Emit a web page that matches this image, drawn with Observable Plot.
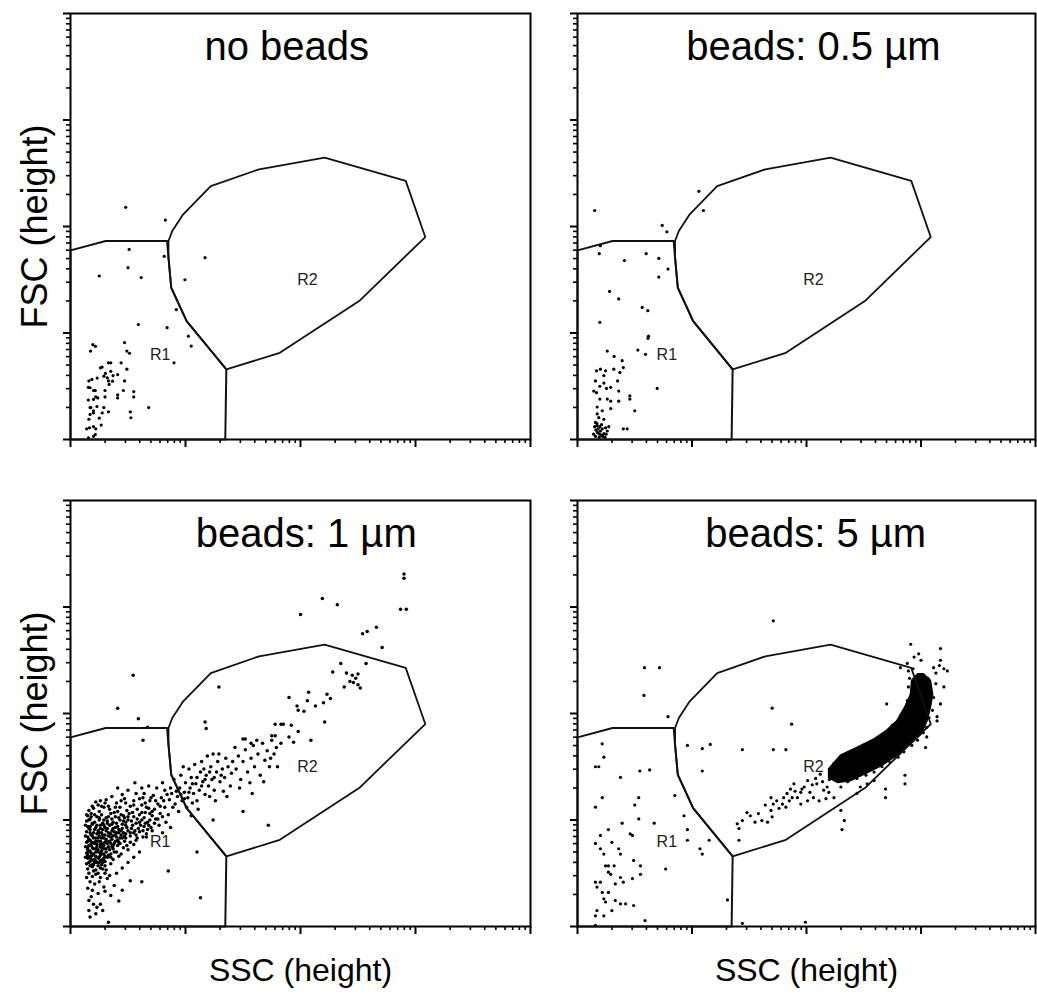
<!DOCTYPE html>
<html><head><meta charset="utf-8">
<script src="https://cdn.jsdelivr.net/npm/d3@7"></script>
<script src="https://cdn.jsdelivr.net/npm/@observablehq/plot@0.6"></script>
<style>
body{margin:0;background:#fff;}
#wrap{position:relative;width:1037px;height:994px;background:#fff;font-family:"Liberation Sans",Arial,sans-serif;}
#wrap > div{position:absolute;}
svg{overflow:visible;}
</style></head><body><div id="wrap"></div>
<script>
// ---- DATA (all values in decades: log10 of SSC / FSC channel) ----
const panelTitles = ["no beads", "beads: 0.5 µm", "beads: 1 µm", "beads: 5 µm"];
const titleCenters = [1.88, 2.06, 2.05, 2.08];
const xAxisTitle = "SSC (height)";
const yAxisTitle = "FSC (height)";
const gateNames = ["R1", "R2"];
const gateLabelPos = [[0.78, 0.79], [2.06, 1.50]];

const gateR1 = [[0,0],[0,1.776],[0.306,1.864],[0.84,1.864],[0.852,1.707],[0.876,1.425],[1.01,1.112],[1.355,0.658],[1.346,0]];
const gateR2 = [[0.852,1.864],[0.885,1.958],[0.98,2.114],[1.22,2.38],[1.64,2.537],[2.21,2.647],[2.915,2.428],[3.085,1.901],[2.51,1.30],[1.82,0.814],[1.355,0.658],[1.01,1.112],[0.876,1.425],[0.852,1.707]];

const noBeads = [
[0.194,0.89],[0.217,0.875],[0.174,0.83],[0.47,0.91],[0.49,0.83],[0.513,0.81],[0.59,1.08],[0.84,1.05],[0.33,0.72],[0.35,0.72],
[0.275,0.68],[0.44,0.72],[0.49,0.66],[0.304,0.62],[0.35,0.64],[0.37,0.60],[0.232,0.577],[0.16,0.55],[0.33,0.55],[0.47,0.55],
[0.2,0.46],[0.3,0.46],[0.22,0.40],[0.3,0.40],[0.155,0.49],[0.155,0.37],[0.41,0.42],[0.46,0.46],[0.55,0.45],[0.55,0.40],
[0.68,0.30],[0.17,0.30],[0.2,0.27],[0.23,0.31],[0.29,0.30],[0.25,0.20],[0.33,0.26],[0.52,0.26],[0.16,0.19],[0.14,0.10],
[0.2,0.12],[0.22,0.10],[0.9,0.72],[0.29,0.595],[0.17,0.486],[0.216,0.46],[0.336,0.517],[0.366,0.548],[0.2,0.376],[0.237,0.39],
[0.41,0.39],[0.2,0.25],[0.276,0.25],[0.17,0.235],[0.525,0.204],[0.165,0.11],[0.267,0.135],[0.156,0.016],[0.2,0.03],[0.216,0.047],
[0.41,0.61],[0.177,0.3],[0.32,0.58],[0.186,0.564],[0.26,0.673],[0.92,1.22],[1.025,0.97],[1.05,0.877],
[0.48,2.18],[0.825,2.06],[0.51,1.785],[1.17,1.707],[0.50,1.613],[0.25,1.535],[0.615,1.52],[0.995,1.50],[0.815,1.72]
];

const beads05 = [
[0.195,1.10],[0.565,1.24],[0.614,1.21],[0.62,0.97],[0.615,0.95],[0.527,0.84],[0.594,0.80],[0.696,0.48],[0.457,0.41],[0.457,0.38],
[0.5,0.27],[0.26,0.83],[0.32,0.78],[0.39,0.74],[0.166,0.645],[0.2,0.66],[0.245,0.645],[0.317,0.66],[0.37,0.63],[0.40,0.675],
[0.23,0.6],[0.157,0.55],[0.195,0.5],[0.253,0.48],[0.29,0.49],[0.166,0.44],[0.195,0.38],[0.26,0.38],[0.29,0.36],[0.36,0.36],
[0.172,0.305],[0.216,0.27],[0.172,0.24],[0.157,0.16],[0.172,0.13],[0.195,0.12],[0.216,0.10],[0.245,0.11],[0.273,0.12],[0.172,0.07],
[0.195,0.05],[0.23,0.055],[0.157,0.03],[0.40,0.10],[0.434,0.10],[0.142,0.455],[0.23,0.53],[0.35,0.55],[0.36,0.455],[0.29,0.29],
[0.186,0.205],[0.23,0.19],[0.16,0.09],[0.18,0.06],[0.2,0.08],[0.22,0.03],[0.19,0.02],[0.25,0.05],[0.17,0.15],[0.21,0.14],
[0.15,0.12],[0.24,0.02],[0.14,0.05],[0.26,0.08],[0.18,0.1],[0.21,0.04],
[0.15,2.15],[1.06,2.33],[1.10,2.15],[0.74,2.01],[0.78,1.95],[0.19,1.745],[0.2,1.82],[0.41,1.68],[0.6,1.745],[0.71,1.70],
[0.79,1.60],[0.71,1.525],[0.28,1.39],[0.36,1.32]
];

const beads1 = [
// densest core
[0.22,1.17],[0.31,1.19],[0.40,1.16],[0.47,1.2],[0.55,1.18],[0.63,1.21],[0.36,1.22],[0.27,1.13],
[0.16,1.09],[0.2,1.11],[0.25,1.08],[0.29,1.12],[0.34,1.1],[0.38,1.07],[0.43,1.12],[0.49,1.09],[0.52,1.13],[0.58,1.1],[0.62,1.14],[0.68,1.11],
[0.15,1.04],[0.18,1.06],[0.23,1.03],[0.27,1.05],[0.31,1.02],[0.35,1.06],[0.39,1.03],[0.44,1.05],[0.47,1.02],[0.51,1.06],[0.55,1.03],[0.6,1.05],[0.65,1.07],[0.71,1.04],
[0.14,0.99],[0.17,1.01],[0.21,0.98],[0.25,1.0],[0.28,0.97],[0.32,0.99],[0.36,1.01],[0.4,0.97],[0.43,1.0],[0.48,0.98],[0.53,0.99],[0.57,0.97],[0.62,1.0],[0.67,0.98],[0.74,1.01],
[0.15,0.94],[0.19,0.96],[0.22,0.93],[0.26,0.95],[0.3,0.93],[0.34,0.95],[0.37,0.92],[0.41,0.94],[0.45,0.96],[0.49,0.93],[0.54,0.95],[0.59,0.92],[0.64,0.94],[0.7,0.93],
[0.14,0.89],[0.17,0.91],[0.2,0.88],[0.24,0.9],[0.27,0.88],[0.31,0.9],[0.35,0.87],[0.38,0.89],[0.42,0.91],[0.46,0.88],[0.5,0.9],[0.55,0.88],[0.6,0.89],[0.66,0.87],
[0.15,0.84],[0.18,0.86],[0.22,0.83],[0.25,0.85],[0.29,0.83],[0.33,0.85],[0.36,0.82],[0.4,0.84],[0.44,0.86],[0.48,0.83],[0.52,0.85],[0.58,0.83],[0.63,0.84],
[0.14,0.79],[0.17,0.81],[0.21,0.78],[0.24,0.8],[0.28,0.78],[0.31,0.8],[0.35,0.78],[0.39,0.8],[0.43,0.78],[0.47,0.8],[0.52,0.79],[0.57,0.81],
[0.15,0.74],[0.18,0.76],[0.22,0.73],[0.26,0.75],[0.29,0.73],[0.33,0.75],[0.37,0.73],[0.41,0.76],[0.46,0.74],[0.5,0.72],
[0.14,0.69],[0.17,0.71],[0.2,0.68],[0.24,0.7],[0.27,0.68],[0.31,0.7],[0.35,0.68],[0.4,0.7],[0.44,0.68],
[0.15,0.64],[0.18,0.66],[0.21,0.63],[0.25,0.65],[0.28,0.63],[0.32,0.65],[0.37,0.63],[0.42,0.66],
[0.14,0.59],[0.17,0.61],[0.2,0.58],[0.23,0.6],[0.27,0.58],[0.3,0.61],[0.35,0.59],
[0.15,0.54],[0.19,0.56],[0.22,0.53],[0.26,0.55],[0.31,0.53],
[0.16,1.0],[0.19,0.97],[0.23,0.95],[0.26,0.92],[0.29,0.95],[0.32,0.97],[0.16,0.92],[0.19,0.85],[0.23,0.87],[0.27,0.83],[0.3,0.86],[0.33,0.88],
[0.16,0.82],[0.19,0.79],[0.23,0.77],[0.26,0.8],[0.29,0.76],[0.32,0.78],[0.16,0.76],[0.2,0.73],[0.24,0.72],[0.27,0.74],[0.16,0.7],[0.19,0.67],
[0.22,0.7],[0.26,0.67],[0.3,0.66],[0.16,0.65],[0.2,0.62],[0.24,0.64],[0.17,0.57],[0.21,0.6],[0.36,0.96],[0.39,0.93],[0.42,0.88],[0.37,0.85],
[0.41,0.81],[0.45,0.83],[0.38,0.78],[0.34,0.72],[0.38,0.7],[0.45,0.92],[0.48,0.95],[0.5,1.0],[0.46,1.04],[0.41,1.08],[0.33,1.13],[0.24,1.14],
[0.19,1.13],[0.53,0.92],[0.56,0.9],[0.57,0.86],[0.61,0.95],[0.64,1.02],[0.69,1.06],[0.73,0.97],[0.67,0.91],[0.55,0.77],[0.49,0.76],[0.35,0.65],
[0.28,0.6],[0.24,0.57],
[0.13,0.95],[0.13,0.85],[0.13,0.75],[0.13,0.65],[0.14,1.05],[0.18,1.03],[0.21,1.05],[0.25,1.02],[0.29,1.0],[0.33,1.03],[0.37,0.98],[0.42,1.02],
[0.46,0.99],[0.5,1.03],[0.54,1.07],[0.58,1.01],[0.17,0.94],[0.21,0.91],[0.25,0.88],[0.28,0.91],[0.32,0.92],[0.36,0.9],[0.4,0.88],[0.44,0.9],
[0.48,0.87],[0.52,0.88],[0.17,0.88],[0.2,0.83],[0.24,0.83],[0.28,0.86],[0.31,0.82],[0.35,0.84],[0.39,0.86],[0.43,0.83],[0.47,0.85],[0.15,0.8],
[0.18,0.78],[0.22,0.8],[0.26,0.77],[0.3,0.79],[0.34,0.8],[0.37,0.76],[0.42,0.79],[0.15,0.72],[0.19,0.74],[0.23,0.75],[0.27,0.71],[0.31,0.73],
[0.36,0.75],[0.15,0.67],[0.18,0.69],[0.22,0.66],[0.26,0.69],[0.29,0.68],[0.33,0.67],[0.18,0.63],[0.22,0.61],[0.26,0.62],[0.29,0.64],[0.16,0.6],
[0.19,0.58],[0.25,0.6],[0.3,0.57],[0.2,0.52],[0.24,0.5],[0.28,0.54],[0.55,1.14],[0.48,1.16],[0.44,1.18],[0.39,1.12],[0.3,1.16],[0.26,1.18],
[0.65,1.16],[0.7,1.21],[0.74,1.18],[0.78,1.13],[0.81,1.18],[0.84,1.24],[0.87,1.3],[0.92,1.27],[0.96,1.24],[0.99,1.2],[1.03,1.26],[1.06,1.34],
[1.1,1.4],[1.14,1.32],[1.17,1.38],[1.21,1.45],[1.25,1.4],[1.31,1.42],[0.66,1.12],[0.71,1.08],[0.76,1.01],[0.8,1.03],[0.62,1.07],[0.6,0.98],
[0.65,0.97],[0.69,1.0],[0.63,0.9],[0.68,0.95],
// medium region
[0.6,1.2],[0.64,1.25],[0.69,1.18],[0.72,1.23],[0.76,1.15],[0.79,1.21],[0.82,1.28],[0.86,1.19],[0.88,1.25],[0.73,1.1],[0.78,1.06],[0.82,1.12],
[0.85,1.05],[0.89,1.12],[0.75,1.3],[0.68,1.32],[0.8,1.35],[0.71,0.9],[0.77,0.95],[0.83,0.98],[0.62,1.3],[0.57,1.25],[0.5,1.28],[0.45,1.24],
[0.41,1.3],[0.56,1.35],[0.66,0.84],[0.8,0.88],[0.87,0.93],
// diagonal band
[0.91,1.15],[0.93,1.22],[0.95,1.3],[0.97,1.18],[0.99,1.26],[1.0,1.35],[1.02,1.21],[1.04,1.3],[1.05,1.4],[1.07,1.25],[1.09,1.34],[1.1,1.18],
[1.12,1.28],[1.13,1.45],[1.15,1.36],[1.17,1.24],[1.18,1.42],[1.2,1.32],[1.22,1.5],[1.23,1.38],[1.25,1.28],[1.27,1.45],[1.28,1.55],[1.3,1.36],
[1.32,1.48],[1.34,1.4],[1.35,1.58],[1.37,1.5],[1.39,1.32],[1.4,1.44],[0.94,1.08],[1.01,1.12],[1.06,1.16],[0.9,1.38],[0.96,1.42],[1.03,1.48],
[1.08,1.52],[1.14,1.55],[1.21,1.22],[1.26,1.18],[1.33,1.27],[1.11,1.1],[1.19,1.6],[1.05,1.04],[0.98,1.5],[1.16,1.48],[1.29,1.62],[1.36,1.22],
[1.24,1.62],[1.41,1.55],
[1.44,1.48],[1.46,1.6],[1.48,1.38],[1.5,1.55],[1.52,1.66],[1.54,1.45],[1.57,1.58],[1.59,1.7],[1.6,1.5],[1.63,1.62],[1.65,1.42],[1.67,1.72],
[1.69,1.56],[1.71,1.65],[1.73,1.5],[1.75,1.75],[1.77,1.62],[1.79,1.68],[1.47,1.3],[1.56,1.35],[1.62,1.75],[1.68,1.36],[1.52,1.76],[1.43,1.68],
[1.74,1.58],[1.58,1.25],[1.8,1.5],
// upper sparse
[2.9,3.31],[2.9,3.27],[2.87,2.98],[2.92,2.98],[2.19,3.08],[2.32,3.02],[2.0,2.93],[2.54,2.75],[2.58,2.77],[2.66,2.81],[2.71,2.62],[2.57,2.47],
[2.38,2.25],[2.43,2.3],[2.45,2.36],[2.48,2.33],[2.5,2.27],[2.52,2.24],[2.4,2.38],[2.46,2.29],[2.5,2.37],[2.28,2.39],[2.35,2.47],
[2.07,2.2],[2.23,2.18],[2.26,2.14],[2.2,2.1],[1.9,2.15],[1.97,2.07],[2.06,2.12],[2.13,2.07],[2.21,1.92],[1.98,2.03],[2.03,2.02],
[1.83,1.9],[1.85,1.9],[1.78,1.9],[1.92,1.89],[1.98,1.83],[1.75,1.79],[1.78,1.79],[1.9,1.78],[1.94,1.73],[1.5,1.76],[1.57,1.72],
[1.83,1.72],[2.09,1.75],[1.29,2.25],[1.17,1.92],[1.18,1.86],
// isolated
[0.545,2.36],[0.41,2.05],[0.59,1.95],[0.67,1.87],[0.63,1.75],[1.72,0.95],[1.1,0.70],[0.85,0.52],[1.13,0.27],[1.5,1.08],[1.24,1.0],
// lower tail
[0.16,0.244],[0.2,0.21],[0.26,0.21],[0.17,0.09],[0.23,0.18],[0.33,0.04],[0.35,0.29],[0.42,0.24],[0.45,0.34],[0.52,0.43],[0.62,0.42],
[0.29,0.37],[0.19,0.34],[0.22,0.12],[0.16,0.15],[0.28,0.15],[0.38,0.385],[0.32,0.45],[0.25,0.42],
[0.16,0.5],[0.19,0.47],[0.22,0.49],[0.26,0.46],[0.3,0.5],[0.34,0.48],[0.17,0.42],[0.21,0.4],[0.15,0.36],[0.24,0.31],[0.18,0.28],
[0.3,0.33],[0.4,0.5],[0.45,0.55],[0.5,0.6],[0.55,0.65],[0.6,0.7],[0.14,0.46]
];

const beads5 = [
// R1 region
[0.216,1.715],[0.23,1.59],[0.157,1.50],[0.186,1.50],[0.375,1.40],[0.544,1.46],[0.63,1.47],[0.216,1.21],[0.535,1.21],[0.5,1.14],
[0.157,1.12],[0.535,1.01],[0.39,0.97],[0.67,0.97],[0.27,0.91],[0.46,0.87],[0.48,0.855],[0.2,0.855],[0.3,0.79],[0.157,0.78],
[0.2,0.73],[0.36,0.73],[0.23,0.68],[0.375,0.68],[0.49,0.62],[0.245,0.57],[0.27,0.57],[0.32,0.57],[0.55,0.57],[0.77,0.54],
[0.27,0.51],[0.29,0.49],[0.375,0.46],[0.48,0.45],[0.55,0.49],[0.157,0.416],[0.2,0.416],[0.33,0.40],[0.4,0.416],[0.17,0.37],
[0.216,0.32],[0.27,0.32],[0.23,0.26],[0.245,0.23],[0.33,0.244],[0.375,0.213],[0.42,0.213],[0.49,0.197],[0.3,0.15],[0.17,0.15],
[0.157,0.1],[0.23,0.1],[0.59,0.056],[0.157,0.01],[1.31,0.25],[0.96,1.70],[1.16,1.71],[1.09,1.67],[1.09,1.46],[0.85,1.23],
[0.93,1.04],[0.96,0.91],[0.96,0.81],[1.07,0.73],[1.09,0.68],[1.15,0.81],[1.41,0.92],[1.41,0.81],
// isolated
[0.585,2.43],[0.716,2.43],[0.58,2.17],[0.79,1.97],[1.70,2.05],[1.87,1.90],[1.44,1.66],[1.71,1.66],[1.82,1.66],[2.91,2.65],
[3.17,2.61],[2.86,1.34],[2.69,1.21],[2.31,0.91],[1.44,0.03],[1.71,2.87],[1.99,0.04],
// tail toward the bead population
[1.395,0.964],[1.44,0.995],[1.51,1.04],[1.58,1.06],[1.61,0.995],[1.66,0.98],[1.69,1.09],[1.71,1.15],[1.74,1.18],[1.80,1.21],
[1.82,1.12],[1.83,1.25],[1.86,1.29],[1.89,1.34],[1.92,1.21],[1.95,1.15],[1.96,1.29],[2.01,1.37],[2.03,1.26],[2.06,1.21],
[2.09,1.34],[2.11,1.18],[2.12,1.43],[2.15,1.28],[2.18,1.31],[1.95,1.26],[1.85,1.18],[1.79,1.15],[1.70,1.03],[1.55,0.98],
[1.48,1.07],[1.64,1.14],[1.76,1.11],[1.69,1.21],[1.875,1.21],[2.01,1.18],[2.08,1.39],[2.195,1.26],[2.24,1.21],[2.30,1.09],
[2.33,0.995],[2.44,1.25],[2.47,1.31],[2.53,1.34],[2.59,1.37],[2.69,1.29],[2.86,1.42],[2.05,1.33],[2.14,1.36],[2.17,1.2],
[1.98,1.31],[1.9,1.27],
// halo around the bead population
[3.04,1.68],[3.05,1.78],[3.14,1.93],[3.14,1.97],[3.17,2.09],[3.20,2.25],[3.23,2.40],[3.11,2.43],[2.98,2.56],[2.88,2.47],
[3.17,2.50],[2.70,2.09],[2.88,2.12],[3.0,2.50],[2.94,2.53],[3.16,2.45],[3.20,2.42],[2.82,2.43],[2.89,2.40],
[2.24,1.53],[2.355,1.62],[2.50,1.70],[2.65,1.79],[2.75,1.89],[2.82,1.98],[2.88,2.09],[2.89,2.25],[2.30,1.31],[2.44,1.39],
[2.59,1.45],[2.73,1.54],[2.85,1.64],[2.97,1.75],[3.05,1.87],[3.10,2.03],[3.11,2.15],[3.13,2.28],
[2.27,1.51],[2.4,1.6],[2.55,1.68],[2.68,1.76],[2.8,1.85],[2.36,1.36],[2.52,1.42],[2.66,1.5],[2.8,1.59],[2.92,1.7],
[3.02,1.82],[3.07,1.96],[3.08,2.1],[3.06,2.33],[2.93,2.42],[2.9,2.33],[3.13,2.38],[2.2,1.38],[2.25,1.44],[2.21,1.47]
];

// outline of the near-solid 5 µm bead population
const beads5Core = [[2.195,1.48],[2.30,1.61],[2.44,1.68],[2.59,1.76],[2.70,1.84],[2.79,1.93],[2.86,2.06],[2.91,2.18],[2.92,2.31],[2.97,2.37],
[3.02,2.37],[3.08,2.31],[3.10,2.18],[3.08,2.06],[3.05,1.93],[3.0,1.81],[2.91,1.72],[2.79,1.61],[2.65,1.51],[2.50,1.43],[2.38,1.37],[2.27,1.355],[2.195,1.40]];

const majorTicks = [1, 10, 100, 1000, 10000];
const minorTicks = [];
for (const d of [1, 10, 100, 1000]) for (const k of [2,3,4,5,6,7,8,9]) minorTicks.push(k * d);

// ---- LAYOUT ----
const panels = [
  {pts: noBeads, core: null, left: 0,   top: 0,   w: 545, h: 494, ml: 70, mr: 15, mt: 13, mb: 55, yLab: true,  xLab: false, r: 1.6},
  {pts: beads05, core: null, left: 507, top: 0,   w: 530, h: 494, ml: 70, mr: 2,  mt: 13, mb: 55, yLab: false, xLab: false, r: 1.6},
  {pts: beads1,  core: null, left: 0,   top: 494, w: 545, h: 500, ml: 70, mr: 15, mt: 6,  mb: 68, yLab: true,  xLab: true,  r: 1.75},
  {pts: beads5,  core: beads5Core, left: 507, top: 494, w: 530, h: 500, ml: 70, mr: 2, mt: 6, mb: 68, yLab: false, xLab: true, r: 1.6}
];

const toXY = a => a.map(([s, f]) => ({x: 10 ** s, y: 10 ** f}));
const font = "Liberation Sans, Arial, sans-serif";

panels.forEach((p, i) => {
  const marks = [
    Plot.axisX({ticks: majorTicks, tickSize: 8, tickFormat: () => "", label: null, strokeWidth: 2}),
    Plot.axisX({ticks: minorTicks, tickSize: 4, tickFormat: () => "", label: null, strokeWidth: 1.6}),
    Plot.axisY({ticks: majorTicks, tickSize: 7, tickFormat: () => "", label: null, strokeWidth: 2}),
    Plot.axisY({ticks: minorTicks, tickSize: 4, tickFormat: () => "", label: null, strokeWidth: 1.6}),
    Plot.frame({stroke: "#000", strokeWidth: 2})
  ];
  if (p.core) marks.push(Plot.line(toXY(p.core), {x: "x", y: "y", curve: "linear-closed", fill: "#000", stroke: "#000", strokeWidth: 2}));
  marks.push(Plot.dot(toXY(p.pts), {x: "x", y: "y", r: p.r, fill: "#000"}));
  marks.push(Plot.line(toXY(gateR1), {x: "x", y: "y", curve: "linear-closed", stroke: "#111", strokeWidth: 2}));
  marks.push(Plot.line(toXY(gateR2), {x: "x", y: "y", curve: "linear-closed", stroke: "#111", strokeWidth: 1.8}));
  marks.push(Plot.text(gateNames, {x: (d, j) => 10 ** gateLabelPos[j][0], y: (d, j) => 10 ** gateLabelPos[j][1], text: d => d, fontSize: 16, fill: "#222"}));
  marks.push(Plot.text([panelTitles[i]], {x: () => 10 ** titleCenters[i], frameAnchor: "top", lineAnchor: "middle", textAnchor: "middle", dy: 34, text: d => d, fontSize: 40, fill: "#000"}));
  if (p.yLab) marks.push(Plot.text([yAxisTitle], {frameAnchor: "left", lineAnchor: "middle", textAnchor: "middle", dx: -35, rotate: -90, text: d => d, fontSize: 36, fill: "#000"}));
  if (p.xLab) marks.push(Plot.text([xAxisTitle], {frameAnchor: "bottom", lineAnchor: "middle", textAnchor: "middle", dy: 44, text: d => d, fontSize: 32, fill: "#000"}));

  const chart = Plot.plot({
    width: p.w, height: p.h,
    marginLeft: p.ml, marginRight: p.mr, marginTop: p.mt, marginBottom: p.mb,
    x: {type: "log", domain: [1, 10000]},
    y: {type: "log", domain: [1, 10000]},
    style: {fontFamily: font, background: "transparent", color: "#000"},
    marks
  });
  const holder = document.createElement("div");
  holder.style.left = p.left + "px";
  holder.style.top = p.top + "px";
  holder.appendChild(chart);
  document.getElementById("wrap").appendChild(holder);
});
</script>
</body></html>
